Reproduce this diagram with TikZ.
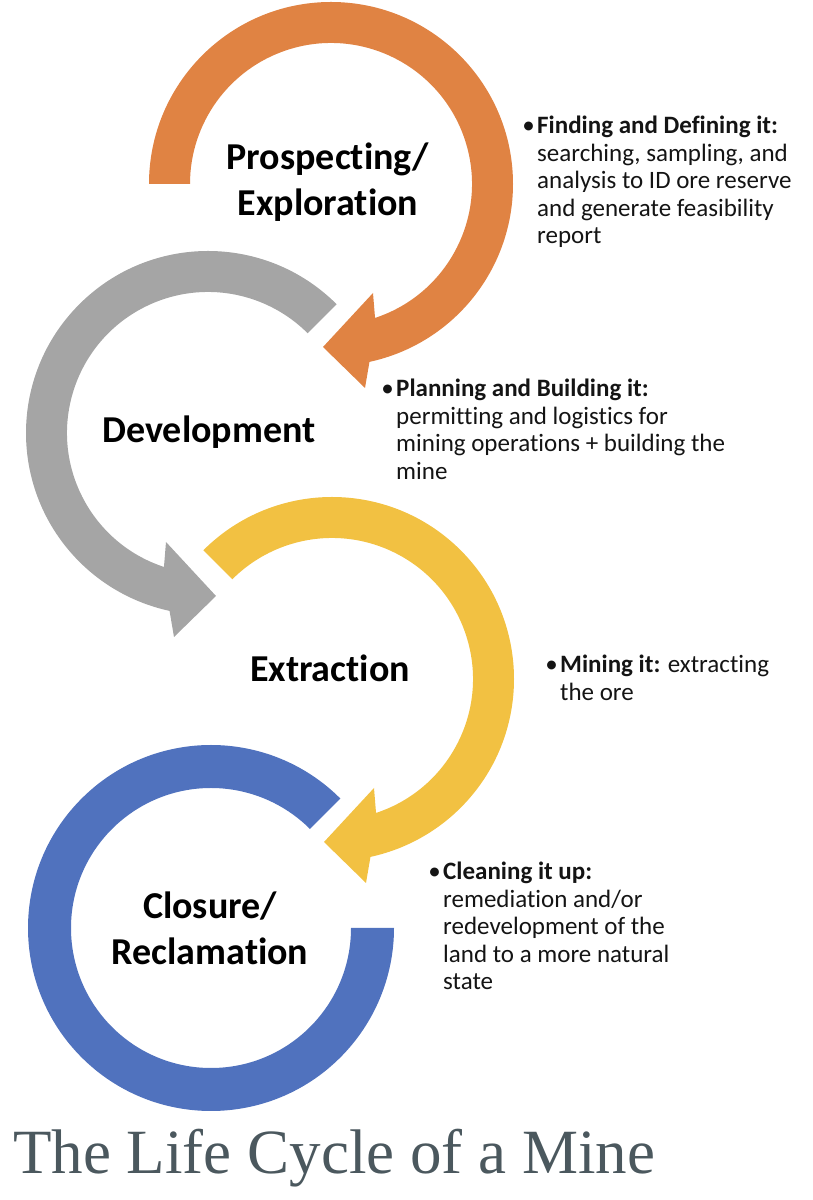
\documentclass[tikz,border=0pt]{standalone}
\usepackage{fontspec}
\setmainfont{Carlito}[Ligatures=NoCommon]
\newfontfamily\titlefont{Liberation Serif}
\usetikzlibrary{calc}
\definecolor{ringorange}{RGB}{224,131,67}
\definecolor{ringgray}{RGB}{165,165,165}
\definecolor{ringyellow}{RGB}{242,193,66}
\definecolor{ringblue}{RGB}{80,114,190}
\definecolor{titlegray}{RGB}{75,88,94}
\definecolor{bodytext}{RGB}{20,20,20}
\newcommand{\bul}{\llap{•\kern2.5pt}}
\tikzset{
  stagelabel/.style={font=\bfseries\fontsize{38}{46}\selectfont, align=center, inner sep=0pt, text=black},
  bulletblock/.style={font=\fontsize{25}{27.5}\selectfont, align=left, inner sep=0pt, anchor=base west, text=bodytext},
  titletext/.style={font=\titlefont\fontsize{63}{70}\selectfont, inner sep=0pt, anchor=base west, text=titlegray}
}
\begin{document}
\begin{tikzpicture}[x=1pt,y=1pt]
\useasboundingbox (0,0) rectangle (813,1200);
\coordinate (c1) at (331,1016);
\coordinate (c2) at (208,767);
\coordinate (c3) at (332,521);
\coordinate (c4) at (211,272);
% orange ring with arrow
\fill[ringorange] ($(c1)+(180:182)$) arc[start angle=180, end angle=-77.8, radius=182]
  -- ($(c1)+(34,-204)$) -- ($(c1)+(-8,-163)$) -- ($(c1)+(42,-109)$)
  -- ($(c1)+(-71.8:141)$) arc[start angle=-71.8, end angle=180, radius=141] -- cycle;
% gray ring with arrow
\fill[ringgray] ($(c2)+(45:182)$) arc[start angle=45, end angle=257.8, radius=182]
  -- ($(c2)+(-34,-204)$) -- ($(c2)+(8,-163)$) -- ($(c2)+(-42,-109)$)
  -- ($(c2)+(251.8:141)$) arc[start angle=251.8, end angle=45, radius=141] -- cycle;
% yellow ring with arrow
\fill[ringyellow] ($(c3)+(135:182)$) arc[start angle=135, end angle=-77.8, radius=182]
  -- ($(c3)+(34,-204)$) -- ($(c3)+(-8,-163)$) -- ($(c3)+(42,-109)$)
  -- ($(c3)+(-71.8:141)$) arc[start angle=-71.8, end angle=135, radius=141] -- cycle;
% blue ring
\fill[ringblue] ($(c4)+(45:183)$) arc[start angle=45, end angle=360, radius=183]
  -- ($(c4)+(0:140)$) arc[start angle=360, end angle=45, radius=140] -- cycle;
% stage labels
\node[stagelabel] (prosp) at (328,1018) {Prospecting/\\Exploration};
\node[stagelabel, anchor=base] (devel) at (209,757) {Development};
\node[stagelabel, anchor=base] (extr) at (330,518) {Extraction};
\node[stagelabel] (clos) at (210,272) {Closure/\\Reclamation};
% bullet texts (anchor = baseline of the last line)
\node[bulletblock] (find) at (537,956) {\bul\textbf{Finding and Defining it:}\\searching, sampling, and\\analysis to ID ore reserve\\and generate feasibility\\report};
\node[bulletblock] (plan) at (396,720.5) {\bul\textbf{Planning and Building it:}\\permitting and logistics for\\mining operations + building the\\mine};
\node[bulletblock] (mine) at (560,499.5) {\bul\textbf{Mining it:} extracting\\the ore};
\node[bulletblock] (clean) at (443,210) {\bul\textbf{Cleaning it up:}\\remediation and/or\\redevelopment of the\\land to a more natural\\state};
% title
\node[titletext] (title) at (13,27) {The Life Cycle of a Mine};
\end{tikzpicture}
\end{document}
